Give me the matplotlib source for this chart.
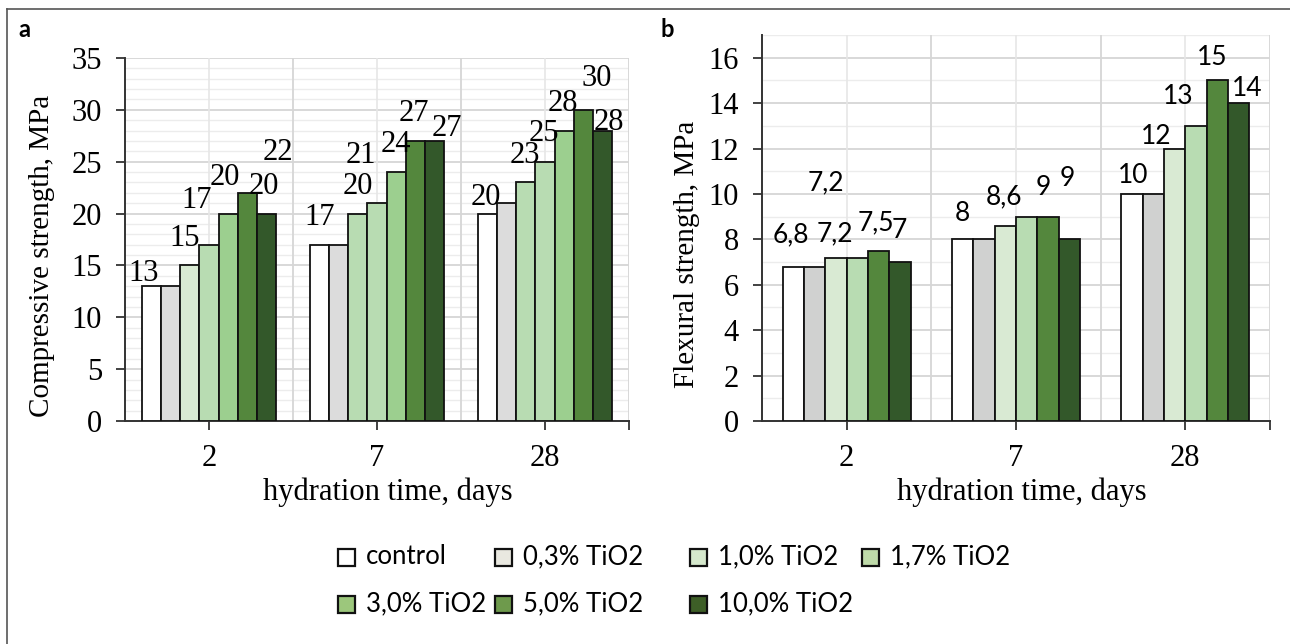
import matplotlib
matplotlib.use("Agg")
import matplotlib.pyplot as plt
from matplotlib.patches import Rectangle
from matplotlib.lines import Line2D
import numpy as np

# hydration time categories (days)
days = ["2", "7", "28"]

# compressive strength (MPa), one list per mix, values at 2 / 7 / 28 days
comp_control = [13, 17, 20]
comp_03 = [13, 17, 21]
comp_10 = [15, 20, 23]
comp_17 = [17, 21, 25]
comp_30 = [20, 24, 28]
comp_50 = [22, 27, 30]
comp_100 = [20, 27, 28]

# flexural strength (MPa), the 3,0% mix is not shown in panel b
flex_control = [6.8, 8, 10]
flex_03 = [6.8, 8, 10]
flex_10 = [7.2, 8.6, 12]
flex_17 = [7.2, 9, 13]
flex_50 = [7.5, 9, 15]
flex_100 = [7, 8, 14]

legend_labels = ["control", "0,3% TiO2", "1,0% TiO2", "1,7% TiO2",
                 "3,0% TiO2", "5,0% TiO2", "10,0% TiO2"]

W, H = 1290, 644
SERIF = "Liberation Serif"
SANS = "Lato"

col_white = "#ffffff"
col_gray_a = "#dcdcdc"
col_gray_b = "#d0d1d0"
col_10 = "#d9ead3"
col_17 = "#b8dcb2"
col_30 = "#9ccf8f"
col_50 = "#54873d"
col_100 = "#33582a"

legend_colors = ["#ffffff", "#e9e8e0", "#d5e8cc", "#bedaa9",
                 "#9cc77c", "#6e9a4c", "#3d5e27"]

# label offsets from bar top, in pixels (dx, dy); None = label hidden
offs_a = [
    [(-8, 13), (0, 27), (-2, 16)],
    [None, None, None],
    [(-5, 27), (0, 27), (-1, 27)],
    [(-12, 44), (-16, 48), (-1, 28)],
    [(-3, 36), (0, 28), (-1, 27)],
    [(31, 40), (-1, 27), (14, 31)],
    [(-2, 27), (13, 12), (7, 8)],
]
offs_b = [
    [(-2, 32), (0, 26), (1, 18)],
    [None, None, None],
    [(-10, 75), (-1, 29), (-18, 12)],
    [(-22, 24), (17, 29), (-18, 29)],
    [(-3, 28), (19, 38), (-5, 23)],
    [(-1, 32), None, (9, 15)],
]


def fx(px):
    return px / W


def fy(py):
    return 1 - py / H


def style_axes(ax, ymax, major, n_cat):
    ax.set_xlim(-0.5, n_cat - 0.5)
    ax.set_ylim(0, ymax)
    for y in np.arange(1, ymax + 0.5, 1):
        if y % major == 0:
            ax.axhline(y, color="#d6d6d6", lw=1.3, zorder=0)
        else:
            ax.axhline(y, color="#ececec", lw=1.0, zorder=0)
    for i in range(n_cat):
        ax.axvline(i, color="#e6e6e6", lw=1.2, zorder=0)
        ax.axvline(i + 0.5, color="#d6d6d6", lw=1.3, zorder=0)
    for s in ["top", "right"]:
        ax.spines[s].set_visible(False)
    for s in ["left", "bottom"]:
        ax.spines[s].set_color("#333333")
        ax.spines[s].set_linewidth(1.4)
    ax.set_yticks(np.arange(0, ymax + 0.1, major) if ymax % major == 0
                  else np.arange(0, ymax, major))
    ax.set_xticks(list(range(n_cat)) + [n_cat - 0.5])
    ax.set_xticklabels(days + [""])
    ax.tick_params(axis="both", length=6.5, width=1.3, color="#333333",
                   labelsize=22)
    ax.tick_params(axis="y", pad=10)
    ax.tick_params(axis="x", pad=10)
    for lab in ax.get_xticklabels() + ax.get_yticklabels():
        lab.set_fontfamily(SERIF)


def draw_bars(ax, series, colors, width, offsets, fmt, font):
    n = len(series)
    x = np.arange(len(days))
    for k, (vals, col) in enumerate(zip(series, colors)):
        pos = x + (k - (n - 1) / 2) * width
        ax.bar(pos, vals, width, color=col, edgecolor="#111111",
               linewidth=1.3, zorder=3)
        for j, v in enumerate(vals):
            o = offsets[k][j]
            if o is None:
                continue
            ax.annotate(fmt(v), xy=(pos[j], v),
                        xytext=(o[0] * 0.72, o[1] * 0.72),
                        textcoords="offset points", ha="center", va="center",
                        fontsize=font[1], family=font[0], zorder=5)


fig = plt.figure(figsize=(W / 100, H / 100), dpi=100)

# panel a
ax_a = fig.add_axes([fx(125), fy(421), fx(629) - fx(125), fy(58) - fy(421)])
style_axes(ax_a, 35, 5, len(days))
series_a = [comp_control, comp_03, comp_10, comp_17, comp_30, comp_50, comp_100]
colors_a = [col_white, col_gray_a, [col_10, col_17, col_17], col_17,
            col_30, col_50, col_100]
draw_bars(ax_a, series_a, colors_a, 19 / 167.5, offs_a,
          lambda v: f"{v:g}", (SERIF, 22))
ax_a.set_ylabel("Compressive strength, MPa", fontsize=21, family=SERIF)
ax_a.yaxis.set_label_coords(-0.139, 0.455)
ax_a.set_xlabel("hydration time, days", fontsize=22, family=SERIF)
ax_a.xaxis.set_label_coords(0.522, -0.155)

# panel b
ax_b = fig.add_axes([fx(762), fy(421), fx(1270) - fx(762), fy(35) - fy(421)])
style_axes(ax_b, 17, 2, len(days))
series_b = [flex_control, flex_03, flex_10, flex_17, flex_50, flex_100]
colors_b = [col_white, col_gray_b, col_10, col_17, col_50, col_100]
draw_bars(ax_b, series_b, colors_b, 21.3 / 169, offs_b,
          lambda v: f"{v:g}".replace(".", ","), (SANS, 19))
ax_b.set_ylabel("Flexural strength, MPa", fontsize=21, family=SERIF)
ax_b.yaxis.set_label_coords(-0.122, 0.433)
ax_b.set_xlabel("hydration time, days", fontsize=22, family=SERIF)
ax_b.xaxis.set_label_coords(0.512, -0.146)

# panel letters
fig.text(fx(18), fy(37), "a", fontsize=17, fontweight="bold", family=SANS)
fig.text(fx(660), fy(37), "b", fontsize=17, fontweight="bold", family=SANS)

# legend, laid out row by row like the original
col_x = [338, 495, 690, 862]
row_y = [557, 604]
box = 17
for i, (lab, col) in enumerate(zip(legend_labels, legend_colors)):
    r, c = divmod(i, 4)
    x0, yc = col_x[c], row_y[r]
    fig.add_artist(Rectangle((fx(x0), fy(yc + box / 2)), box / W, box / H,
                             facecolor=col, edgecolor="#111111", lw=1.6,
                             transform=fig.transFigure))
    fig.text(fx(x0 + box + 11), fy(yc), lab, fontsize=18.5, family=SANS,
             va="center", ha="left")

# outer frame
fig.add_artist(Line2D([fx(7), fx(1290)], [fy(9), fy(9)], color="#555555",
                      lw=1.2, transform=fig.transFigure))
fig.add_artist(Line2D([fx(7), fx(7)], [fy(9), 0], color="#555555",
                      lw=1.2, transform=fig.transFigure))

fig.savefig("out.png", dpi=100)
